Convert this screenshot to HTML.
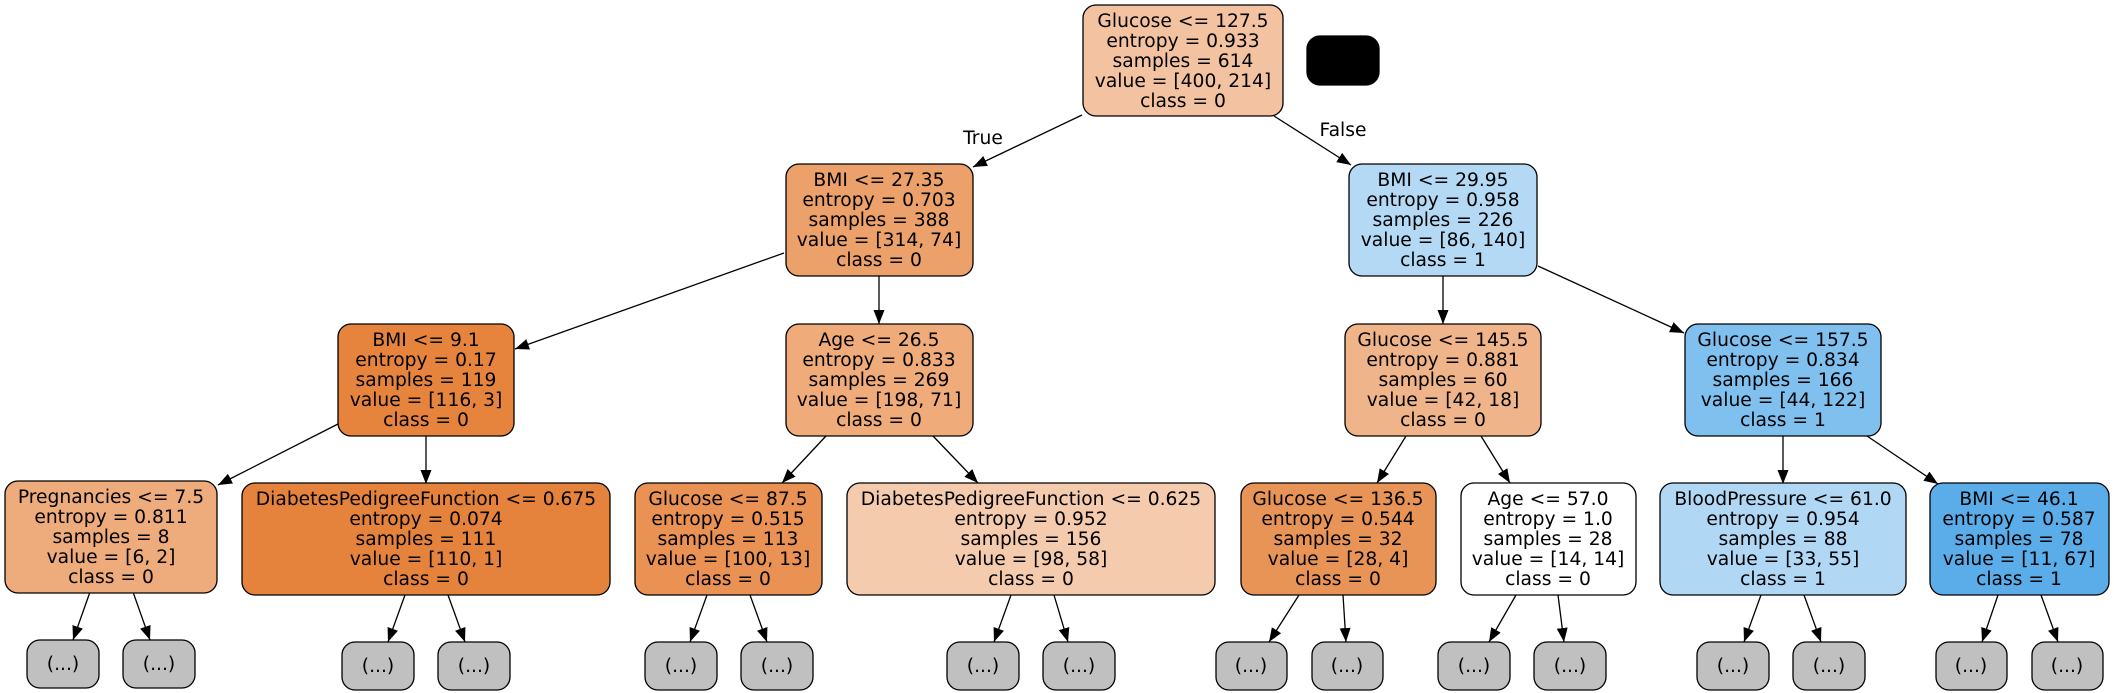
<!DOCTYPE html>
<html><head><meta charset="utf-8"><style>
html,body{margin:0;padding:0;background:#fff;}
svg{display:block;}
text{font-family:"DejaVu Sans","Liberation Sans",sans-serif;font-size:18.7px;fill:#000;text-anchor:middle;}
.n{stroke:#000;stroke-width:1.3;}
.e{stroke:#000;stroke-width:1.3;fill:none;marker-end:url(#a);}
</style></head><body>
<svg width="2114" height="693" viewBox="0 0 2114 693" xmlns="http://www.w3.org/2000/svg">
<defs><marker id="a" markerUnits="userSpaceOnUse" markerWidth="16" markerHeight="12" refX="14" refY="5.5" orient="auto"><path d="M0,0 L14,5.5 L0,11 z" fill="#000"/></marker></defs>

<!-- edges -->
<line class="e" x1="1082" y1="115" x2="973" y2="167"/>
<line class="e" x1="1274" y1="116" x2="1351" y2="165"/>
<line class="e" x1="784" y1="253" x2="515" y2="349"/>
<line class="e" x1="879" y1="276" x2="879" y2="324"/>
<line class="e" x1="338" y1="424" x2="218" y2="485"/>
<line class="e" x1="426" y1="436" x2="426" y2="484"/>
<line class="e" x1="826" y1="436" x2="782" y2="483"/>
<line class="e" x1="933" y1="436" x2="978" y2="483"/>
<line class="e" x1="90" y1="592" x2="73" y2="640"/>
<line class="e" x1="133" y1="592" x2="150" y2="640"/>
<line class="e" x1="405" y1="595" x2="388" y2="642"/>
<line class="e" x1="448" y1="595" x2="465" y2="642"/>
<line class="e" x1="707" y1="595" x2="690" y2="642"/>
<line class="e" x1="750" y1="595" x2="767" y2="642"/>
<line class="e" x1="1011" y1="595" x2="994" y2="642"/>
<line class="e" x1="1054" y1="595" x2="1068" y2="642"/>
<line class="e" x1="1443" y1="276" x2="1443" y2="324"/>
<line class="e" x1="1538" y1="266" x2="1684" y2="333"/>
<line class="e" x1="1406" y1="436" x2="1377" y2="483"/>
<line class="e" x1="1481" y1="436" x2="1510" y2="483"/>
<line class="e" x1="1783" y1="436" x2="1783" y2="484"/>
<line class="e" x1="1867" y1="436" x2="1938" y2="484"/>
<line class="e" x1="1299" y1="595" x2="1269" y2="642"/>
<line class="e" x1="1343" y1="595" x2="1346" y2="642"/>
<line class="e" x1="1516" y1="595" x2="1489" y2="642"/>
<line class="e" x1="1558" y1="595" x2="1564" y2="642"/>
<line class="e" x1="1761" y1="595" x2="1744" y2="642"/>
<line class="e" x1="1804" y1="595" x2="1821" y2="642"/>
<line class="e" x1="1998" y1="595" x2="1982" y2="642"/>
<line class="e" x1="2041" y1="595" x2="2058" y2="642"/>

<text x="983" y="144">True</text>
<text x="1343" y="136">False</text>

<!-- black node -->
<rect class="n" x="1307" y="36" width="72" height="49" rx="13" fill="#000"/>

<!-- nodes -->
<g>
<rect class="n" x="1083" y="5" width="200" height="111" rx="13" fill="#f3c3a1"/>
<text x="1183" y="27">Glucose &lt;= 127.5</text><text x="1183" y="47">entropy = 0.933</text><text x="1183" y="67">samples = 614</text><text x="1183" y="87">value = [400, 214]</text><text x="1183" y="107">class = 0</text>
</g>
<g>
<rect class="n" x="786" y="164" width="187" height="112" rx="13" fill="#eca06a"/>
<text x="879" y="186">BMI &lt;= 27.35</text><text x="879" y="206">entropy = 0.703</text><text x="879" y="226">samples = 388</text><text x="879" y="246">value = [314, 74]</text><text x="879" y="266">class = 0</text>
</g>
<g>
<rect class="n" x="1349" y="164" width="188" height="112" rx="13" fill="#b3d9f5"/>
<text x="1443" y="186">BMI &lt;= 29.95</text><text x="1443" y="206">entropy = 0.958</text><text x="1443" y="226">samples = 226</text><text x="1443" y="246">value = [86, 140]</text><text x="1443" y="266">class = 1</text>
</g>
<g>
<rect class="n" x="338" y="324" width="176" height="112" rx="13" fill="#e6843e"/>
<text x="426" y="346">BMI &lt;= 9.1</text><text x="426" y="366">entropy = 0.17</text><text x="426" y="386">samples = 119</text><text x="426" y="406">value = [116, 3]</text><text x="426" y="426">class = 0</text>
</g>
<g>
<rect class="n" x="786" y="324" width="187" height="112" rx="13" fill="#f0ab7b"/>
<text x="879" y="346">Age &lt;= 26.5</text><text x="879" y="366">entropy = 0.833</text><text x="879" y="386">samples = 269</text><text x="879" y="406">value = [198, 71]</text><text x="879" y="426">class = 0</text>
</g>
<g>
<rect class="n" x="1345" y="324" width="196" height="112" rx="13" fill="#f0b48a"/>
<text x="1443" y="346">Glucose &lt;= 145.5</text><text x="1443" y="366">entropy = 0.881</text><text x="1443" y="386">samples = 60</text><text x="1443" y="406">value = [42, 18]</text><text x="1443" y="426">class = 0</text>
</g>
<g>
<rect class="n" x="1685" y="324" width="196" height="112" rx="13" fill="#7fc0ee"/>
<text x="1783" y="346">Glucose &lt;= 157.5</text><text x="1783" y="366">entropy = 0.834</text><text x="1783" y="386">samples = 166</text><text x="1783" y="406">value = [44, 122]</text><text x="1783" y="426">class = 1</text>
</g>
<g>
<rect class="n" x="5" y="481" width="212" height="112" rx="13" fill="#eeab7b"/>
<text x="111" y="503">Pregnancies &lt;= 7.5</text><text x="111" y="523">entropy = 0.811</text><text x="111" y="543">samples = 8</text><text x="111" y="563">value = [6, 2]</text><text x="111" y="583">class = 0</text>
</g>
<g>
<rect class="n" x="242" y="483" width="368" height="112" rx="13" fill="#e5833c"/>
<text x="426" y="505">DiabetesPedigreeFunction &lt;= 0.675</text><text x="426" y="525">entropy = 0.074</text><text x="426" y="545">samples = 111</text><text x="426" y="565">value = [110, 1]</text><text x="426" y="585">class = 0</text>
</g>
<g>
<rect class="n" x="635" y="483" width="187" height="112" rx="13" fill="#e99254"/>
<text x="728" y="505">Glucose &lt;= 87.5</text><text x="728" y="525">entropy = 0.515</text><text x="728" y="545">samples = 113</text><text x="728" y="565">value = [100, 13]</text><text x="728" y="585">class = 0</text>
</g>
<g>
<rect class="n" x="847" y="483" width="368" height="112" rx="13" fill="#f5cbad"/>
<text x="1031" y="505">DiabetesPedigreeFunction &lt;= 0.625</text><text x="1031" y="525">entropy = 0.952</text><text x="1031" y="545">samples = 156</text><text x="1031" y="565">value = [98, 58]</text><text x="1031" y="585">class = 0</text>
</g>
<g>
<rect class="n" x="1241" y="483" width="195" height="112" rx="13" fill="#e99457"/>
<text x="1338" y="505">Glucose &lt;= 136.5</text><text x="1338" y="525">entropy = 0.544</text><text x="1338" y="545">samples = 32</text><text x="1338" y="565">value = [28, 4]</text><text x="1338" y="585">class = 0</text>
</g>
<g>
<rect class="n" x="1461" y="483" width="175" height="112" rx="13" fill="#ffffff"/>
<text x="1548" y="505">Age &lt;= 57.0</text><text x="1548" y="525">entropy = 1.0</text><text x="1548" y="545">samples = 28</text><text x="1548" y="565">value = [14, 14]</text><text x="1548" y="585">class = 0</text>
</g>
<g>
<rect class="n" x="1660" y="483" width="246" height="112" rx="13" fill="#b0d8f5"/>
<text x="1783" y="505">BloodPressure &lt;= 61.0</text><text x="1783" y="525">entropy = 0.954</text><text x="1783" y="545">samples = 88</text><text x="1783" y="565">value = [33, 55]</text><text x="1783" y="585">class = 1</text>
</g>
<g>
<rect class="n" x="1930" y="483" width="179" height="112" rx="13" fill="#5aade9"/>
<text x="2019" y="505">BMI &lt;= 46.1</text><text x="2019" y="525">entropy = 0.587</text><text x="2019" y="545">samples = 78</text><text x="2019" y="565">value = [11, 67]</text><text x="2019" y="585">class = 1</text>
</g>

<!-- leaves -->
<g fill="#c0c0c0">
<rect class="n" x="27" y="640" width="72" height="48" rx="13"/><text x="63" y="670">(...)</text>
<rect class="n" x="123" y="640" width="72" height="48" rx="13"/><text x="159" y="670">(...)</text>
<rect class="n" x="342" y="642" width="72" height="48" rx="13"/><text x="378" y="672">(...)</text>
<rect class="n" x="438" y="642" width="72" height="48" rx="13"/><text x="474" y="672">(...)</text>
<rect class="n" x="645" y="642" width="72" height="48" rx="13"/><text x="681" y="672">(...)</text>
<rect class="n" x="741" y="642" width="72" height="48" rx="13"/><text x="777" y="672">(...)</text>
<rect class="n" x="947" y="642" width="72" height="48" rx="13"/><text x="983" y="672">(...)</text>
<rect class="n" x="1043" y="642" width="72" height="48" rx="13"/><text x="1079" y="672">(...)</text>
<rect class="n" x="1216" y="642" width="71" height="48" rx="13"/><text x="1251" y="672">(...)</text>
<rect class="n" x="1312" y="642" width="71" height="48" rx="13"/><text x="1347" y="672">(...)</text>
<rect class="n" x="1438" y="642" width="72" height="48" rx="13"/><text x="1474" y="672">(...)</text>
<rect class="n" x="1534" y="642" width="72" height="48" rx="13"/><text x="1570" y="672">(...)</text>
<rect class="n" x="1697" y="642" width="72" height="48" rx="13"/><text x="1733" y="672">(...)</text>
<rect class="n" x="1793" y="642" width="72" height="48" rx="13"/><text x="1829" y="672">(...)</text>
<rect class="n" x="1936" y="642" width="71" height="48" rx="13"/><text x="1971" y="672">(...)</text>
<rect class="n" x="2032" y="642" width="71" height="48" rx="13"/><text x="2067" y="672">(...)</text>
</g>
</svg>
</body></html>
